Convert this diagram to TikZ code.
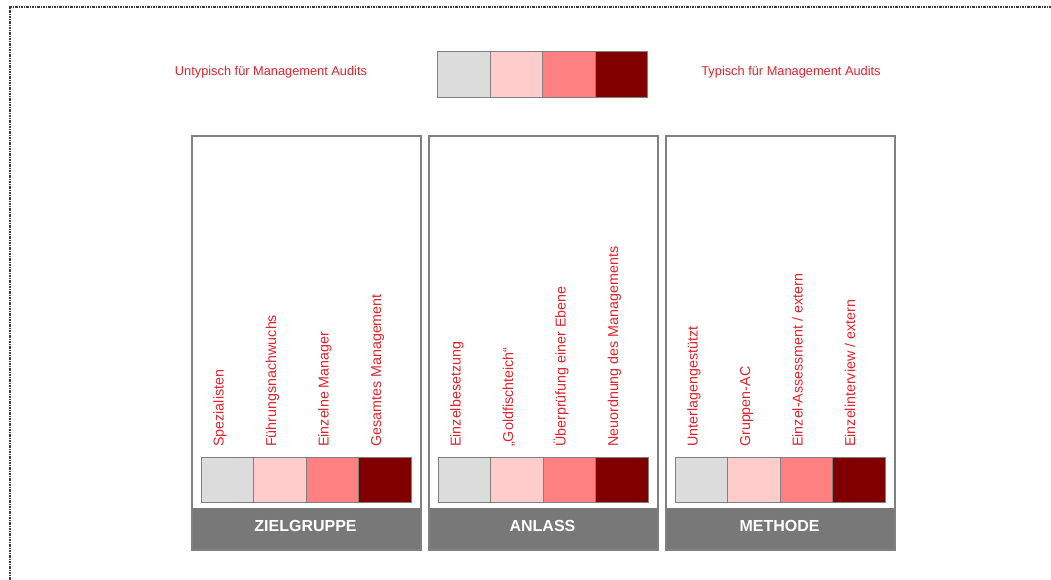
\documentclass[tikz,border=0pt]{standalone}
\usepackage{fontspec}
\setmainfont{Liberation Sans}
\definecolor{cA}{RGB}{220,220,220}
\definecolor{cB}{RGB}{255,204,204}
\definecolor{cC}{RGB}{255,128,128}
\definecolor{cD}{RGB}{128,0,0}
\definecolor{edge}{RGB}{128,128,128}
\definecolor{barc}{RGB}{120,120,120}
\definecolor{txtred}{RGB}{225,35,45}
\definecolor{frame}{RGB}{60,60,60}
\tikzset{
  sq/.style={draw=edge, line width=1pt, minimum width=52.5pt, minimum height=45pt, inner sep=0pt, anchor=north west},
  panelbox/.style={draw=edge, line width=2pt, minimum width=229pt, minimum height=414pt, inner sep=0pt, anchor=north west},
  barbox/.style={fill=barc, draw=none, minimum width=229pt, minimum height=41pt, inner sep=0pt, anchor=south west},
  title/.style={text=white, font=\bfseries\fontsize{16}{18}\selectfont, inner sep=0pt, anchor=base},
  collabel/.style={text=txtred, font=\fontsize{14.3}{16}\selectfont, inner sep=0pt, anchor=base west, rotate=90},
  leglabel/.style={text=txtred, font=\fontsize{12.8}{15}\selectfont, inner sep=0pt, anchor=base},
}
\begin{document}
\begin{tikzpicture}[x=1pt,y=-1pt]
\useasboundingbox (0,0) rectangle (1051,580);
\fill[white] (0,0) rectangle (1051,580);
% dotted frame
\draw[frame, line width=1.6pt, dash pattern=on 2.5pt off 1pt on 1pt off 1pt] (10,585) -- (10,7) -- (1056,7);
% legend
\node[leglabel] (legL) at (271,75.5) {Untypisch für Management Audits};
\node[leglabel] (legR) at (791,75.5) {Typisch für Management Audits};
\node[sq, fill=cA, minimum height=46pt] (l1) at (437,51) {};
\node[sq, fill=cB, minimum height=46pt] (l2) at (489.5,51) {};
\node[sq, fill=cC, minimum height=46pt] (l3) at (542,51) {};
\node[sq, fill=cD, minimum height=46pt] (l4) at (594.5,51) {};
% panels
\foreach \i/\px/\ttl/\a/\b/\c/\d in {
  1/191/ZIELGRUPPE/Spezialisten/Führungsnachwuchs/Einzelne Manager/Gesamtes Management,
  2/428/ANLASS/Einzelbesetzung/„Goldfischteich“/Überprüfung einer Ebene/Neuordnung des Managements,
  3/665/METHODE/Unterlagengestützt/Gruppen-AC/{Einzel-Assessment / extern}/{Einzelinterview / extern}}{
  \node[barbox] (bar\i) at (\px,549) {};
  \node[panelbox] (panel\i) at (\px,135) {};
  \node[title] (title\i) at (\px+114.5,531) {\ttl};
  \node[sq, fill=cA] (p\i s1) at (\px+9.5,457) {};
  \node[sq, fill=cB] (p\i s2) at (\px+62,457) {};
  \node[sq, fill=cC] (p\i s3) at (\px+114.5,457) {};
  \node[sq, fill=cD] (p\i s4) at (\px+167,457) {};
  \node[collabel] (p\i t1) at (\px+9.5+23,447) {\a};
  \node[collabel] (p\i t2) at (\px+62+23,447) {\b};
  \node[collabel] (p\i t3) at (\px+114.5+23,447) {\c};
  \node[collabel] (p\i t4) at (\px+167+23,447) {\d};
}
\end{tikzpicture}
\end{document}
